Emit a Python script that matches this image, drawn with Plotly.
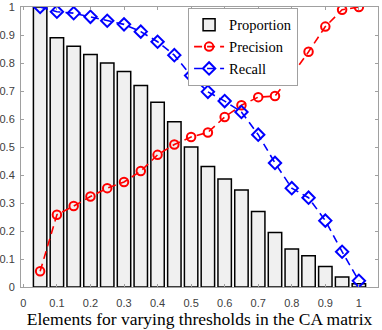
import plotly.graph_objects as go

# thresholds and values
thresholds = [0.05, 0.10, 0.15, 0.20, 0.25, 0.30, 0.35, 0.40, 0.45, 0.50,
              0.55, 0.60, 0.65, 0.70, 0.75, 0.80, 0.85, 0.90, 0.95, 1.00]
proportion = [1.00, 0.89, 0.86, 0.83, 0.80, 0.77, 0.72, 0.66, 0.59, 0.50,
              0.43, 0.386, 0.346, 0.27, 0.195, 0.136, 0.112, 0.073, 0.036, 0.012]
precision = [0.056, 0.258, 0.289, 0.323, 0.353, 0.375, 0.414, 0.472, 0.509, 0.536,
             0.552, 0.607, 0.649, 0.678, 0.682, 0.757, 0.84, 0.93, 0.99, 1.00]
recall = [1.00, 0.983, 0.978, 0.965, 0.951, 0.938, 0.912, 0.876, 0.828, 0.755,
          0.697, 0.664, 0.625, 0.544, 0.443, 0.353, 0.319, 0.237, 0.126, 0.022]

tick_vals = [0, 0.1, 0.2, 0.3, 0.4, 0.5, 0.6, 0.7, 0.8, 0.9, 1]
tick_text = ['0', '0.1', '0.2', '0.3', '0.4', '0.5', '0.6', '0.7', '0.8', '0.9', '1']

fig = go.Figure()
fig.add_trace(go.Bar(x=thresholds, y=proportion, width=0.04, name='Proportion',
                     marker=dict(color='#f0f0f0', line=dict(color='black', width=1.5))))
fig.add_trace(go.Scatter(x=thresholds, y=precision, name='Precision', mode='lines+markers',
                         line=dict(color='#ff0000', width=1.6, dash='8px,5px'),
                         marker=dict(symbol='circle-open', size=8.5, color='#ff0000',
                                     line=dict(width=2))))
fig.add_trace(go.Scatter(x=thresholds, y=recall, name='Recall', mode='lines+markers',
                         line=dict(color='#0000ff', width=1.6, dash='8px,5px'),
                         marker=dict(symbol='diamond-open', size=9.5, color='#0000ff',
                                     line=dict(width=2))))

axis_style = dict(showline=True, linecolor='#a0a0a0', linewidth=1, mirror='ticks',
                  ticks='inside', ticklen=3, tickcolor='#a0a0a0', showgrid=False,
                  zeroline=False, tickvals=tick_vals, ticktext=tick_text, automargin=False,
                  tickfont=dict(family='Liberation Sans', size=11, color='#404040'))

fig.update_layout(
    width=382, height=330,
    margin=dict(l=21, r=4, t=7, b=43),
    plot_bgcolor='white', paper_bgcolor='white',
    xaxis=dict(range=[-0.007, 1.057], ticklabelstandoff=6,
               title=dict(text='Elements for varying thresholds in the CA matrix',
                          font=dict(family='Liberation Serif', size=17.5, color='black'),
                          standoff=3),
               **axis_style),
    yaxis=dict(range=[0, 1], ticklabelstandoff=3, **axis_style),
    legend=dict(x=0.468, y=0.997, xanchor='left', yanchor='top',
                bgcolor='white', bordercolor='#a0a0a0', borderwidth=1,
                font=dict(family='Liberation Serif', size=14.5, color='black'),
                tracegroupgap=0, itemwidth=30),
    showlegend=True,
)

# page has a default 8px body margin; drop it so the figure sits at the corner
fig.write_html("out.html", config={'displayModeBar': False},
               post_script="document.body.style.margin='0';")
